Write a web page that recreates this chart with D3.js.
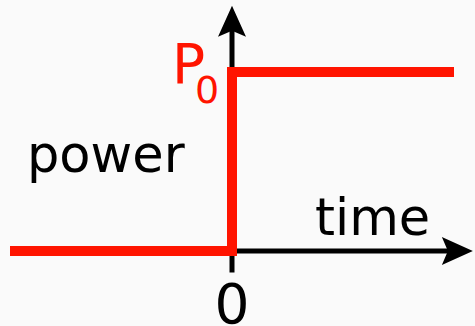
<!DOCTYPE html>
<html>
<head>
<meta charset="utf-8">
<script src="https://cdn.jsdelivr.net/npm/d3@7"></script>
<style>
  html, body { margin: 0; padding: 0; background: #fafafa; }
  svg { display: block; }
</style>
</head>
<body>
<div id="chart"></div>
<script>
// step function: power switches from 0 to P0 at time 0
const stepTimes = [-1, 0, 0, 1];
const stepPower = [0, 0, 1, 1];

// axis extents (in data units)
const timeAxis = [-0.01, 1.085];
const powerAxis = [-0.12, 1.37];

// labels
const axisLabels = { x: "time", y: "power", origin: "0", level: "P", levelSub: "0" };

const W = 475, H = 326;
const red = "#ff1400";

const svg = d3.select("#chart")
    .append("svg")
    .attr("width", W)
    .attr("height", H);

const x = d3.scaleLinear().domain([-1, 1]).range([10, 454]);
const y = d3.scaleLinear().domain([0, 1]).range([251, 72]);

const font = "DejaVu Sans, Verdana, sans-serif";

// horizontal axis
svg.append("line")
    .attr("x1", x(timeAxis[0]))
    .attr("x2", x(timeAxis[1]) - 8)
    .attr("y1", y(0))
    .attr("y2", y(0))
    .attr("stroke", "#000")
    .attr("stroke-width", 5);

// vertical axis
svg.append("line")
    .attr("x1", x(0))
    .attr("x2", x(0))
    .attr("y1", y(powerAxis[0]))
    .attr("y2", y(powerAxis[1]) + 8)
    .attr("stroke", "#000")
    .attr("stroke-width", 5);

// arrow heads (notched)
const tipX = x(timeAxis[1]), tipY = y(powerAxis[1]);
svg.append("path")
    .attr("d", `M${tipX},${y(0)} L${tipX - 31},${y(0) - 14} L${tipX - 25},${y(0)} L${tipX - 31},${y(0) + 14} Z`)
    .attr("fill", "#000");
svg.append("path")
    .attr("d", `M${x(0)},${tipY} L${x(0) - 14},${tipY + 31} L${x(0)},${tipY + 25} L${x(0) + 14},${tipY + 31} Z`)
    .attr("fill", "#000");

// the step
const pts = stepTimes.map((t, i) => [t, stepPower[i]]);
const line = d3.line()
    .x(d => x(d[0]))
    .y(d => y(d[1]));

svg.append("path")
    .datum(pts)
    .attr("d", line)
    .attr("fill", "none")
    .attr("stroke", red)
    .attr("stroke-width", 10)
    .attr("stroke-linejoin", "miter");

// labels
svg.append("text")
    .attr("x", 315)
    .attr("y", 235)
    .style("font-family", font)
    .style("font-size", "51px")
    .attr("fill", "#000")
    .text(axisLabels.x);

svg.append("text")
    .attr("x", 27)
    .attr("y", 172)
    .style("font-family", font)
    .style("font-size", "51px")
    .attr("fill", "#000")
    .text(axisLabels.y);

svg.append("text")
    .attr("x", x(0))
    .attr("y", 323)
    .attr("text-anchor", "middle")
    .style("font-family", font)
    .style("font-size", "55px")
    .attr("fill", "#000")
    .text(axisLabels.origin);

const p0 = svg.append("text")
    .attr("x", 172)
    .attr("y", 83)
    .style("font-family", font)
    .style("font-size", "55px")
    .attr("fill", red);
p0.append("tspan").text(axisLabels.level);
p0.append("tspan")
    .attr("x", 195)
    .attr("y", 103)
    .style("font-size", "38px")
    .text(axisLabels.levelSub);
</script>
</body>
</html>
